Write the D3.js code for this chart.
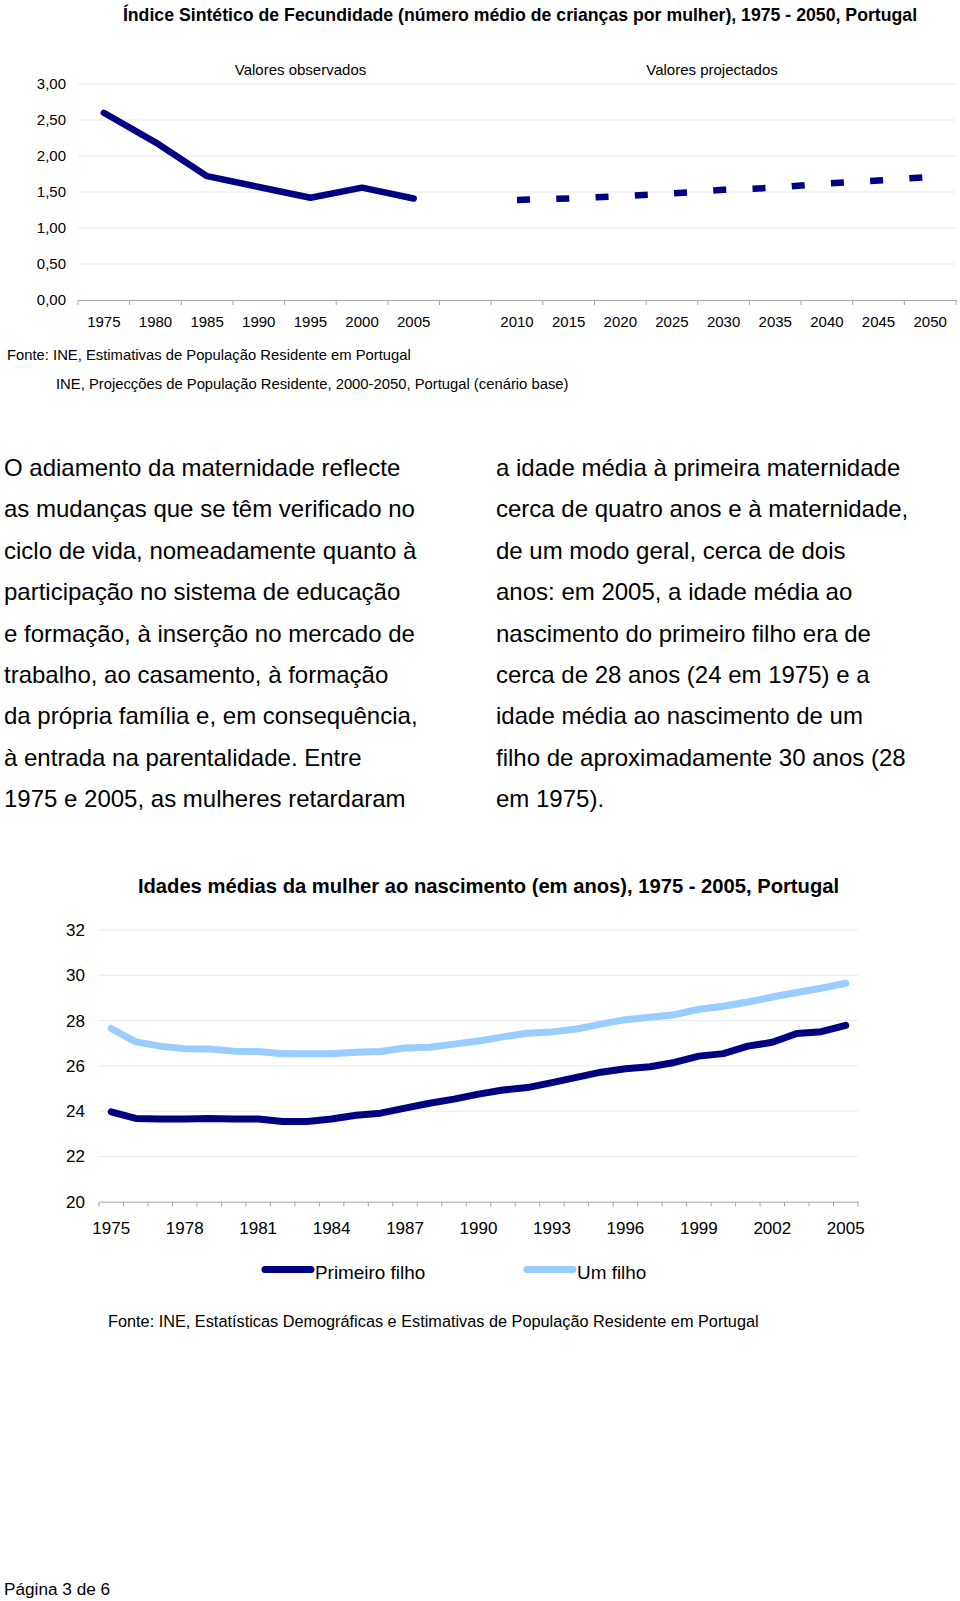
<!DOCTYPE html>
<html>
<head>
<meta charset="utf-8">
<script src="https://cdn.jsdelivr.net/npm/d3@7/dist/d3.min.js"></script>
<style>
  html, body { margin: 0; padding: 0; background: #fff; }
  svg { display: block; font-family: "Liberation Sans", Arial, Helvetica, sans-serif; }
</style>
</head>
<body>
<svg id="page" width="960" height="1601"></svg>
<script>
// ---------- Data: chart 1 (ISF) ----------
const isfCategories = ["1975","1980","1985","1990","1995","2000","2005","gap","2010","2015","2020","2025","2030","2035","2040","2045","2050"];
const isfObservedYears = ["1975","1980","1985","1990","1995","2000","2005"];
const isfObserved = [2.60, 2.19, 1.72, 1.57, 1.42, 1.56, 1.41];
const isfProjectedYears = ["2010","2015","2020","2025","2030","2035","2040","2045","2050"];
const isfProjected = [1.39, 1.41, 1.44, 1.48, 1.53, 1.56, 1.62, 1.66, 1.71];
const isfYTicks = [0, 0.5, 1, 1.5, 2, 2.5, 3];

// ---------- Data: chart 2 (idades médias) ----------
const ageYears = d3.range(1975, 2006).map(String);
const primeiroFilho = [23.97, 23.68, 23.65, 23.65, 23.68, 23.65, 23.65, 23.54, 23.54, 23.65,
  23.82, 23.91, 24.13, 24.35, 24.53, 24.75, 24.93, 25.04, 25.26, 25.49,
  25.72, 25.87, 25.96, 26.15, 26.43, 26.54, 26.87, 27.04, 27.43, 27.51, 27.79];
const umFilho = [27.65, 27.06, 26.87, 26.76, 26.74, 26.65, 26.63, 26.53, 26.53, 26.53,
  26.60, 26.63, 26.79, 26.82, 26.96, 27.10, 27.28, 27.44, 27.50, 27.63,
  27.84, 28.04, 28.15, 28.26, 28.50, 28.63, 28.82, 29.04, 29.24, 29.43, 29.65];
const ageYTicks = [20, 22, 24, 26, 28, 30, 32];
const ageXTickLabels = ["1975","1978","1981","1984","1987","1990","1993","1996","1999","2002","2005"];
const seriesNames = ["Primeiro filho", "Um filho"];

// ---------- Text ----------
const title1 = "Índice Sintético de Fecundidade (número médio de crianças por mulher), 1975 - 2050, Portugal";
const title2 = "Idades médias da mulher ao nascimento (em anos), 1975 - 2005, Portugal";
const source1 = ["Fonte: INE, Estimativas de População Residente em Portugal",
                 "INE, Projecções de População Residente, 2000-2050, Portugal (cenário base)"];
const source2 = "Fonte: INE, Estatísticas Demográficas e Estimativas de População Residente em Portugal";
const leftColumn = [
  "O adiamento da maternidade reflecte",
  "as mudanças que se têm verificado no",
  "ciclo de vida, nomeadamente quanto à",
  "participação no sistema de educação",
  "e formação, à inserção no mercado de",
  "trabalho, ao casamento, à formação",
  "da própria família e, em consequência,",
  "à entrada na parentalidade. Entre",
  "1975 e 2005, as mulheres retardaram"
];
const rightColumn = [
  "a idade média à primeira maternidade",
  "cerca de quatro anos e à maternidade,",
  "de um modo geral, cerca de dois",
  "anos: em 2005, a idade média ao",
  "nascimento do primeiro filho era de",
  "cerca de 28 anos (24 em 1975) e a",
  "idade média ao nascimento de um",
  "filho de aproximadamente 30 anos (28",
  "em 1975)."
];
const footer = "Página 3 de 6";

const NAVY = "#000080", LIGHT = "#99ccff", GRID = "#e9e9e9", AXIS = "#a6a6a6";
const svg = d3.select("#page");

// =============== Chart 1 ===============
{
  const g = svg.append("g");
  const x = d3.scaleBand().domain(isfCategories).range([78, 956]).padding(0);
  const y = d3.scaleLinear().domain([0, 3]).range([300, 84]);

  g.append("text").attr("x", 520).attr("y", 20.5).attr("text-anchor", "middle")
    .attr("font-size", 17.7).attr("font-weight", "bold").text(title1);

  // grid
  g.selectAll(".grid").data(isfYTicks.filter(d => d > 0)).join("line")
    .attr("x1", 78).attr("x2", 956).attr("y1", d => y(d)).attr("y2", d => y(d))
    .attr("stroke", GRID).attr("stroke-width", 1);

  // y labels
  const yAxis = d3.axisLeft(y).tickValues(isfYTicks).tickSize(0).tickPadding(0)
    .tickFormat(d => d3.format(".2f")(d).replace(".", ","));
  const ya = g.append("g").attr("transform", "translate(66,0)").call(yAxis);
  ya.select(".domain").remove();
  ya.selectAll("text").attr("font-size", 15).attr("font-family", null).attr("fill", "#000");

  // x axis
  const xAxis = d3.axisBottom(x).tickSize(0).tickPadding(0)
    .tickFormat(d => d === "gap" ? "" : d);
  const xa = g.append("g").attr("transform", "translate(0,300)").call(xAxis);
  xa.select(".domain").attr("stroke", AXIS);
  xa.selectAll("text").attr("font-size", 15).attr("font-family", null).attr("fill", "#000")
    .attr("dy", null).attr("y", 27);
  const bounds = isfCategories.map(d => x(d)).concat([x.range()[1]]);
  g.selectAll(".xt").data(bounds).join("line")
    .attr("x1", d => d).attr("x2", d => d).attr("y1", 300).attr("y2", 305)
    .attr("stroke", AXIS);

  // headers
  g.append("text").attr("x", 300.5).attr("y", 75).attr("text-anchor", "middle")
    .attr("font-size", 15).text("Valores observados");
  g.append("text").attr("x", 712).attr("y", 75).attr("text-anchor", "middle")
    .attr("font-size", 15).text("Valores projectados");

  const line = d3.line().x(d => x(d[0]) + x.bandwidth() / 2).y(d => y(d[1]));
  g.append("path").datum(d3.zip(isfObservedYears, isfObserved))
    .attr("d", line).attr("fill", "none").attr("stroke", NAVY)
    .attr("stroke-width", 6.5).attr("stroke-linejoin", "round").attr("stroke-linecap", "round");
  g.append("path").datum(d3.zip(isfProjectedYears, isfProjected))
    .attr("d", line).attr("fill", "none").attr("stroke", NAVY)
    .attr("stroke-width", 6.5).attr("stroke-dasharray", "13,26.3");

  g.append("text").attr("x", 7).attr("y", 360).attr("font-size", 14.8).text(source1[0]);
  g.append("text").attr("x", 56).attr("y", 389).attr("font-size", 14.8).text(source1[1]);
}

// =============== Body text ===============
{
  const g = svg.append("g").attr("font-size", 24);
  g.selectAll(".lc").data(leftColumn).join("text")
    .attr("x", 4).attr("y", (d, i) => 476 + i * 41.4).text(d => d);
  g.selectAll(".rc").data(rightColumn).join("text")
    .attr("x", 496).attr("y", (d, i) => 476 + i * 41.4).text(d => d);
}

// =============== Chart 2 ===============
{
  const g = svg.append("g");
  const x = d3.scaleBand().domain(ageYears).range([99, 858]).padding(0);
  const y = d3.scaleLinear().domain([20, 32]).range([1201.7, 930]);

  g.append("text").attr("x", 488.5).attr("y", 892.5).attr("text-anchor", "middle")
    .attr("font-size", 20.2).attr("font-weight", "bold").text(title2);

  g.selectAll(".grid").data(ageYTicks.filter(d => d > 20)).join("line")
    .attr("x1", 99).attr("x2", 858).attr("y1", d => y(d)).attr("y2", d => y(d))
    .attr("stroke", GRID);

  const yAxis = d3.axisLeft(y).tickValues(ageYTicks).tickSize(0).tickPadding(0);
  const ya = g.append("g").attr("transform", "translate(85,0)").call(yAxis);
  ya.select(".domain").remove();
  ya.selectAll("text").attr("font-size", 17).attr("font-family", null).attr("fill", "#000");

  const xAxis = d3.axisBottom(x).tickValues(ageXTickLabels).tickSize(0).tickPadding(0);
  const xa = g.append("g").attr("transform", "translate(0,1201.7)").call(xAxis);
  xa.select(".domain").attr("stroke", AXIS);
  xa.selectAll("text").attr("font-size", 17).attr("font-family", null).attr("fill", "#000")
    .attr("dy", null).attr("y", 32);
  const bounds = ageYears.map(d => x(d)).concat([x.range()[1]]);
  g.selectAll(".xt").data(bounds).join("line")
    .attr("x1", d => d).attr("x2", d => d).attr("y1", 1201.7).attr("y2", 1206.7)
    .attr("stroke", AXIS);

  const line = d3.line().x(d => x(d[0]) + x.bandwidth() / 2).y(d => y(d[1]));
  const series = [
    { name: seriesNames[0], values: primeiroFilho, color: NAVY },
    { name: seriesNames[1], values: umFilho, color: LIGHT }
  ];
  series.forEach(s => {
    g.append("path").datum(d3.zip(ageYears, s.values)).attr("d", line)
      .attr("fill", "none").attr("stroke", s.color).attr("stroke-width", 7)
      .attr("stroke-linejoin", "round").attr("stroke-linecap", "round");
  });

  // legend
  const legX = [265, 527];
  series.forEach((s, i) => {
    g.append("line").attr("x1", legX[i]).attr("x2", legX[i] + 46)
      .attr("y1", 1269.5).attr("y2", 1269.5).attr("stroke", s.color)
      .attr("stroke-width", 7).attr("stroke-linecap", "round");
    g.append("text").attr("x", legX[i] + 50).attr("y", 1278.5)
      .attr("font-size", 18.9).text(s.name);
  });

  g.append("text").attr("x", 108).attr("y", 1326.5).attr("font-size", 16.3).text(source2);
}

svg.append("text").attr("x", 4).attr("y", 1595).attr("font-size", 17.2).text(footer);
</script>
</body>
</html>
